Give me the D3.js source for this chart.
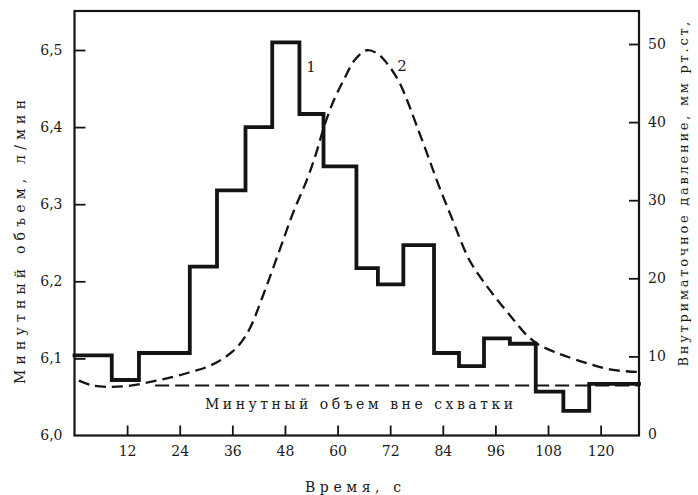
<!DOCTYPE html>
<html>
<head>
<meta charset="utf-8">
<script src="https://cdn.jsdelivr.net/npm/d3@7/dist/d3.min.js"></script>
<style>
  html, body { margin: 0; padding: 0; background: #fff; }
  svg text { font-family: "DejaVu Serif", "Liberation Serif", serif; fill: #1a1a1a; }
</style>
</head>
<body>
<svg id="chart" width="698" height="495"></svg>
<script>
// Time axis, seconds
const timeTicks = [12, 24, 36, 48, 60, 72, 84, 96, 108, 120];
// Left axis: minute volume, l/min
const volumeTicks = [6.0, 6.1, 6.2, 6.3, 6.4, 6.5];
// Right axis: intrauterine pressure, mm Hg
const pressureTicks = [0, 10, 20, 30, 40, 50];

// Curve 1: minute volume, stepwise (interval starts in seconds, level in l/min)
const stepStarts = [0, 8.5, 14.7, 26.3, 32.5, 39.0, 45.1, 51.3, 56.8, 64.3, 69.2, 75.0, 82.0, 87.7, 93.4, 99.3, 105.2, 111.5, 117.4];
const stepVolume = [6.104, 6.072, 6.107, 6.219, 6.318, 6.400, 6.510, 6.417, 6.349, 6.217, 6.196, 6.247, 6.107, 6.090, 6.126, 6.119, 6.057, 6.032, 6.067];
const stepEnd = 128.75;

// Curve 2: intrauterine pressure during the contraction
const pressureTime = [1, 4, 7.5, 12, 17, 22, 26.5, 30, 33, 36, 38, 40, 43, 46.9, 50, 53, 55, 56.8, 59, 61.4, 64, 66.7, 69, 71.3, 74, 76, 78, 80.4, 83, 86, 90, 93, 96.5, 100, 103, 105.6, 108.5, 111.7, 117, 122.4, 128.5];
const pressureValue = [6.9, 6.3, 6.1, 6.2, 6.7, 7.3, 8.0, 8.6, 9.4, 10.6, 11.8, 13.6, 17.8, 23.8, 28.6, 32.6, 35.8, 39.2, 42.6, 45.4, 48.0, 49.2, 48.8, 47.5, 45.2, 42.6, 39.6, 36.0, 32.0, 27.8, 22.4, 19.8, 17.2, 14.8, 12.8, 11.6, 10.8, 10.1, 9.1, 8.3, 8.0];

// Minute volume outside the contraction
const restVolume = 6.065;
const restStart = 18.4;

const svg = d3.select("#chart");
const ink = "#141414";

const x = d3.scaleLinear().domain([0, stepEnd]).range([74.5, 639]);
const yL = d3.scaleLinear().domain([6.0, 6.5]).range([435.5, 50]);
const yR = d3.scaleLinear().domain([0, 50]).range([434.5, 44]);
const frameTop = 11, frameBottom = 435.5;

const comma = d => d.toFixed(1).replace(".", ",");

// Axes with inward ticks
const gB = svg.append("g").attr("transform", `translate(0,${frameBottom})`)
  .call(d3.axisBottom(x).tickValues(timeTicks).tickSizeInner(-10).tickSizeOuter(0).tickPadding(11));
const gL = svg.append("g").attr("transform", `translate(${x(0)},0)`)
  .call(d3.axisLeft(yL).tickValues(volumeTicks).tickFormat(comma).tickSizeInner(-11).tickSizeOuter(0).tickPadding(12));
const gR = svg.append("g").attr("transform", `translate(${x(stepEnd)},0)`)
  .call(d3.axisRight(yR).tickValues(pressureTicks).tickSizeInner(-10).tickSizeOuter(0).tickPadding(9));

[gB, gL, gR].forEach(g => {
  g.select(".domain").remove();
  g.selectAll(".tick line").attr("stroke", ink).attr("stroke-width", 1.8);
  g.selectAll(".tick text").attr("font-size", 14).attr("font-family", "DejaVu Serif").style("fill", "#1a1a1a");
});
gL.selectAll(".tick").filter(d => d === 6.0).select("line").remove();
gR.selectAll(".tick").filter(d => d === 0).select("line").remove();

// Frame
svg.append("rect")
  .attr("x", x(0)).attr("y", frameTop)
  .attr("width", x(stepEnd) - x(0)).attr("height", frameBottom - frameTop)
  .attr("fill", "none").attr("stroke", ink).attr("stroke-width", 2.2);

// Rest-level dashed line
svg.append("path")
  .datum([restStart, stepEnd])
  .attr("d", d3.line().x(d => x(d)).y(() => yL(restVolume)))
  .attr("fill", "none").attr("stroke", ink).attr("stroke-width", 2)
  .attr("stroke-dasharray", "14,6");

// Curve 2: pressure
const pressurePts = pressureTime.map((t, i) => [t, pressureValue[i]]);
svg.append("path")
  .datum(pressurePts)
  .attr("d", d3.line().x(d => x(d[0])).y(d => yR(d[1])).curve(d3.curveCatmullRom.alpha(0.5)))
  .attr("fill", "none").attr("stroke", ink).attr("stroke-width", 2.3)
  .attr("stroke-dasharray", "11,6");

// Curve 1: stepwise minute volume
const stepPts = stepStarts.map((t, i) => [t, stepVolume[i]]);
stepPts.push([stepEnd, stepVolume[stepVolume.length - 1]]);
svg.append("path")
  .datum(stepPts)
  .attr("d", d3.line().x(d => x(d[0])).y(d => yL(d[1])).curve(d3.curveStepAfter))
  .attr("fill", "none").attr("stroke", ink).attr("stroke-width", 3.8)
  .attr("stroke-linejoin", "miter").attr("stroke-linecap", "square");

// Curve numbers
svg.append("text").attr("x", 311).attr("y", 72).attr("text-anchor", "middle").attr("font-size", 15).text("1");
svg.append("text").attr("x", 402).attr("y", 71).attr("text-anchor", "middle").attr("font-size", 15).text("2");

// Rest-level caption
svg.append("text")
  .attr("x", 205).attr("y", 409)
  .attr("font-size", 14)
  .attr("textLength", 308).attr("lengthAdjust", "spacing")
  .text("Минутный объем вне схватки");

// Axis titles
svg.append("text")
  .attr("x", 353).attr("y", 492)
  .attr("text-anchor", "middle").attr("font-size", 14)
  .attr("textLength", 96).attr("lengthAdjust", "spacing")
  .text("Время, с");

svg.append("text")
  .attr("transform", "translate(20,242) rotate(-90)")
  .attr("text-anchor", "middle").attr("dy", "0.35em").attr("font-size", 14)
  .attr("textLength", 284).attr("lengthAdjust", "spacing")
  .text("Минутный объем, л/мин");

svg.append("text")
  .attr("transform", "translate(683,194) rotate(-90)")
  .attr("text-anchor", "middle").attr("dy", "0.35em").attr("font-size", 13)
  .attr("textLength", 345).attr("lengthAdjust", "spacing")
  .text("Внутриматочное давление, мм рт.ст,");
</script>
</body>
</html>
